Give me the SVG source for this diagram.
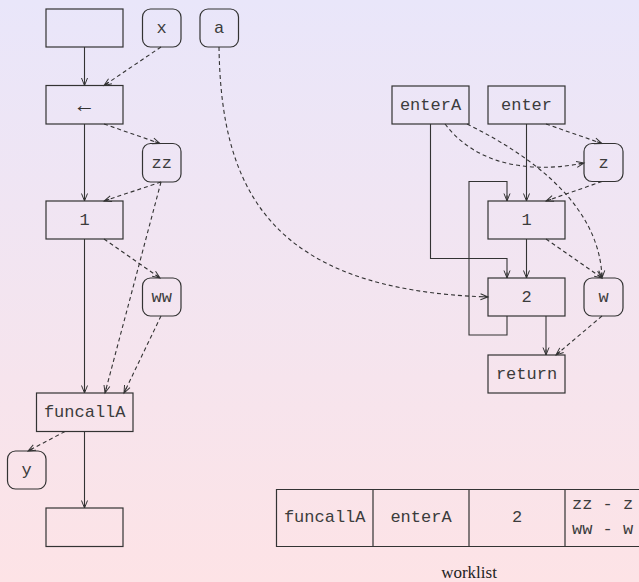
<svg xmlns="http://www.w3.org/2000/svg" width="639" height="582" viewBox="0 0 639 582">
<defs>
<linearGradient id="bg" x1="0" y1="0" x2="0" y2="1">
<stop offset="0" stop-color="#e9e6fa"/>
<stop offset="1" stop-color="#fde3e6"/>
</linearGradient>
<marker id="ah" markerUnits="userSpaceOnUse" markerWidth="10" markerHeight="8" refX="8" refY="3.5" orient="auto" overflow="visible">
<path d="M0.5,0.5 L8,3.5 L0.5,6.5 M2.5,3.5 L8,3.5" fill="none" stroke="#333" stroke-width="1" stroke-dasharray="none"/>
</marker>
<style>
.box{fill:none;stroke:#333;stroke-width:1.2}
.t{font-family:"Liberation Mono","DejaVu Sans Mono",monospace;font-size:17px;fill:#3c3c3c;text-anchor:middle}
.tl{font-family:"Liberation Mono","DejaVu Sans Mono",monospace;font-size:17px;fill:#3c3c3c}
.arr{font-family:"Liberation Sans","DejaVu Sans",sans-serif;font-size:22px;fill:#333;text-anchor:middle}
.s{fill:none;stroke:#333;stroke-width:1.1;marker-end:url(#ah)}
.d{fill:none;stroke:#333;stroke-width:1.1;stroke-dasharray:4 3;marker-end:url(#ah)}
.cap{font-family:"Liberation Serif","DejaVu Serif",serif;font-size:17px;fill:#222;text-anchor:middle}
</style>
</defs>
<rect x="0" y="0" width="639" height="582" fill="url(#bg)"/>

<g id="connectors">
<path class="s" d="M84.5,47 V85.5"/>
<path class="s" d="M84.5,124 V201"/>
<path class="s" d="M84.5,239 V393"/>
<path class="s" d="M84.5,431.5 V508"/>
<path class="d" d="M161,47 L104,85.5"/>
<path class="d" d="M104,124 L160,143.5"/>
<path class="d" d="M161,182 L104,201"/>
<path class="d" d="M161,182 L105,393"/>
<path class="d" d="M104,239 L160,278"/>
<path class="d" d="M161,316 L124,393"/>
<path class="d" d="M65,431.5 L28,451"/>
<path class="d" d="M219,47 C221,190 270,290 488,297"/>
<path class="s" d="M430.5,124 V258.5 H507 V278"/>
<path class="s" d="M526.5,124 V201"/>
<path class="s" d="M526.5,239 V278"/>
<path class="s" d="M507,316 V335 H469 V181.5 H507 V201"/>
<path class="s" d="M546,316 V355"/>
<path class="d" d="M546,124 L602,143.5"/>
<path class="d" d="M445,124 C480,170 540,172 584,163"/>
<path class="d" d="M467,124 C540,160 600,210 602,278"/>
<path class="d" d="M602,181.5 L546,201"/>
<path class="d" d="M546,239 L602,278"/>
<path class="d" d="M602,316 L556,355"/>
</g>

<g id="start"><rect class="box" x="46" y="9" width="77" height="38"/></g>
<g id="x"><rect class="box" x="142.5" y="9" width="38.5" height="38" rx="8"/><text class="t" x="161.7" y="33">x</text></g>
<g id="a"><rect class="box" x="200" y="9" width="38.5" height="38" rx="8"/><text class="t" x="219.2" y="33">a</text></g>
<g id="assign"><rect class="box" x="46" y="85.5" width="77" height="38.5"/><text class="arr" x="84.5" y="112">←</text></g>
<g id="zz"><rect class="box" x="142.5" y="143.5" width="38.5" height="38.5" rx="8"/><text class="t" x="161.7" y="168">zz</text></g>
<g id="one_left"><rect class="box" x="46" y="201" width="77" height="38"/><text class="t" x="84.5" y="225">1</text></g>
<g id="ww"><rect class="box" x="142.5" y="278" width="38.5" height="38" rx="8"/><text class="t" x="161.7" y="302">ww</text></g>
<g id="funcallA"><rect class="box" x="36.5" y="393" width="96.5" height="38.5"/><text class="t" x="84.7" y="417">funcallA</text></g>
<g id="y"><rect class="box" x="7.5" y="451" width="38.5" height="38" rx="8"/><text class="t" x="26.7" y="475">y</text></g>
<g id="end"><rect class="box" x="46" y="508" width="77" height="38.5"/></g>

<g id="enterA"><rect class="box" x="392" y="86" width="77" height="38"/><text class="t" x="430.5" y="110">enterA</text></g>
<g id="enter"><rect class="box" x="488" y="86" width="77" height="38"/><text class="t" x="526.5" y="110">enter</text></g>
<g id="z"><rect class="box" x="584" y="143.5" width="39" height="38" rx="8"/><text class="t" x="603.5" y="168">z</text></g>
<g id="one_right"><rect class="box" x="488" y="201" width="77" height="38"/><text class="t" x="526.5" y="225">1</text></g>
<g id="two"><rect class="box" x="488" y="278" width="77" height="38"/><text class="t" x="526.5" y="302">2</text></g>
<g id="w"><rect class="box" x="584" y="278" width="39" height="38" rx="8"/><text class="t" x="603.5" y="302">w</text></g>
<g id="return"><rect class="box" x="488" y="355" width="77" height="38"/><text class="t" x="526.5" y="379">return</text></g>

<g id="worklist">
<path class="box" d="M645,489.5 H276.5 V546.5 H645 M373,489.5 V546.5 M469,489.5 V546.5 M565,489.5 V546.5"/>
<text class="t" x="324.7" y="522">funcallA</text>
<text class="t" x="421" y="522">enterA</text>
<text class="t" x="517" y="522">2</text>
<text class="tl" x="572" y="508.5">zz - z</text>
<text class="tl" x="572" y="533.5">ww - w</text>
<text class="cap" x="469" y="578">worklist</text>
</g>
</svg>
